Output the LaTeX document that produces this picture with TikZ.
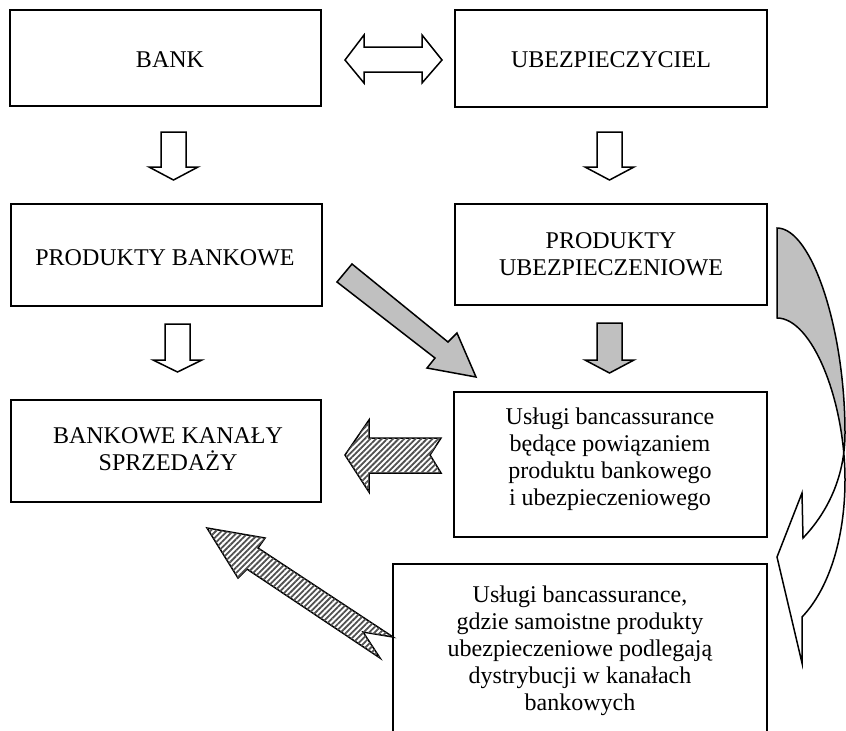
\documentclass[tikz,border=0pt]{standalone}
\usepackage{fontspec}
\setmainfont{Liberation Serif}
\usetikzlibrary{fit,patterns.meta}
\definecolor{silverfill}{RGB}{192,192,192}
\definecolor{hatchcol}{RGB}{80,80,80}
\begin{document}
\begin{tikzpicture}[x=0.5pt,y=-0.5pt,
 box/.style={draw,line width=1pt,inner sep=0pt},
 txt/.style={inner sep=0pt,align=center,font=\fontsize{12}{13.5}\selectfont},
 blk/.style={draw,line width=0.75pt,line join=miter,fill=white},
 grayblk/.style={blk,fill=silverfill},
 hatchblk/.style={draw,line width=0.75pt,line join=miter,fill=white,postaction={pattern={Lines[angle=45,distance=2pt,line width=0.9pt]},pattern color=hatchcol}},
]
\useasboundingbox (0,0) rectangle (846,730);

% boxes
\node[box,fit={(10,10)(321,106)}] (bank) {};
\node[box,fit={(455,10)(767,107)}] (ubez) {};
\node[box,fit={(11,204)(322,306)}] (prodb) {};
\node[box,fit={(455,204)(767,305)}] (produ) {};
\node[box,fit={(11,400)(321,502)}] (kanaly) {};
\node[box,fit={(454,392)(767,537)}] (usl1) {};
\node[box,fit={(393,564)(767,780)}] (usl2) {};

% texts
\node[txt] (bankt) at (170,60) {BANK};
\node[txt] (ubezt) at (611,60) {UBEZPIECZYCIEL};
\node[txt] (prodbt) at (165,258) {PRODUKTY BANKOWE};
\node[txt] (produt) at (611,254) {PRODUKTY\\UBEZPIECZENIOWE};
\node[txt] (kanalyt) at (168,449) {BANKOWE KANAŁY\\SPRZEDAŻY};
\node[txt] (usl1t) at (610,459) {Usługi bancassurance\\będące powiązaniem\\produktu bankowego\\i ubezpieczeniowego};
\node[txt] (usl2t) at (580,651) {Usługi bancassurance,\\gdzie samoistne produkty\\ubezpieczeniowe podlegają\\dystrybucji w kanałach\\bankowych};

% double arrow
\draw[blk] (345,60) -- (364,35) -- (364,47) -- (422,47) -- (422,35) -- (442,60)
  -- (422,83) -- (422,72) -- (364,72) -- (364,83) -- cycle;

% down arrows
\draw[blk] (161,132) -- (186,132) -- (186,167) -- (198,167) -- (173.5,180) -- (149,167) -- (161,167) -- cycle;
\draw[blk] (597,132) -- (622,132) -- (622,167) -- (634,167) -- (609.5,180) -- (585,167) -- (597,167) -- cycle;
\draw[blk] (165,324) -- (190,324) -- (190,360) -- (202,360) -- (177.5,372) -- (153,360) -- (165,360) -- cycle;
\draw[grayblk] (597,323) -- (622,323) -- (622,360) -- (634,360) -- (609.5,373) -- (585,360) -- (597,360) -- cycle;

% gray diagonal arrow
\draw[grayblk] (337,282) -- (352,264) -- (448,342) -- (457,333) -- (476,377) -- (427,368) -- (435,358) -- cycle;

% hatched left arrow
\draw[hatchblk] (345,455) -- (369,420) -- (369,438) -- (441,438) -- (430,455) -- (441,473) -- (369,473) -- (369,492) -- cycle;

% hatched diagonal arrow
\draw[hatchblk] (207,528) -- (265,538) -- (258,548) -- (393,637) -- (363,632) -- (380,658) -- (247,569) -- (238,578) -- cycle;

% curved arrow
\def\curvedpath{(777,228) .. controls (812,228) and (845,330) .. (845,433)
  .. controls (845,480) and (825,515) .. (803,538)
  -- (802,493) -- (777,557) -- (802,663) -- (802,617)
  .. controls (828,590) and (845,540) .. (845,480)
  .. controls (845,400) and (812,318) .. (777,318) -- cycle}
\fill[white] \curvedpath;
\begin{scope}
\clip (760,200) rectangle (850,440);
\fill[silverfill] \curvedpath;
\end{scope}
\draw[line width=0.75pt,line join=miter] \curvedpath;
\end{tikzpicture}
\end{document}
